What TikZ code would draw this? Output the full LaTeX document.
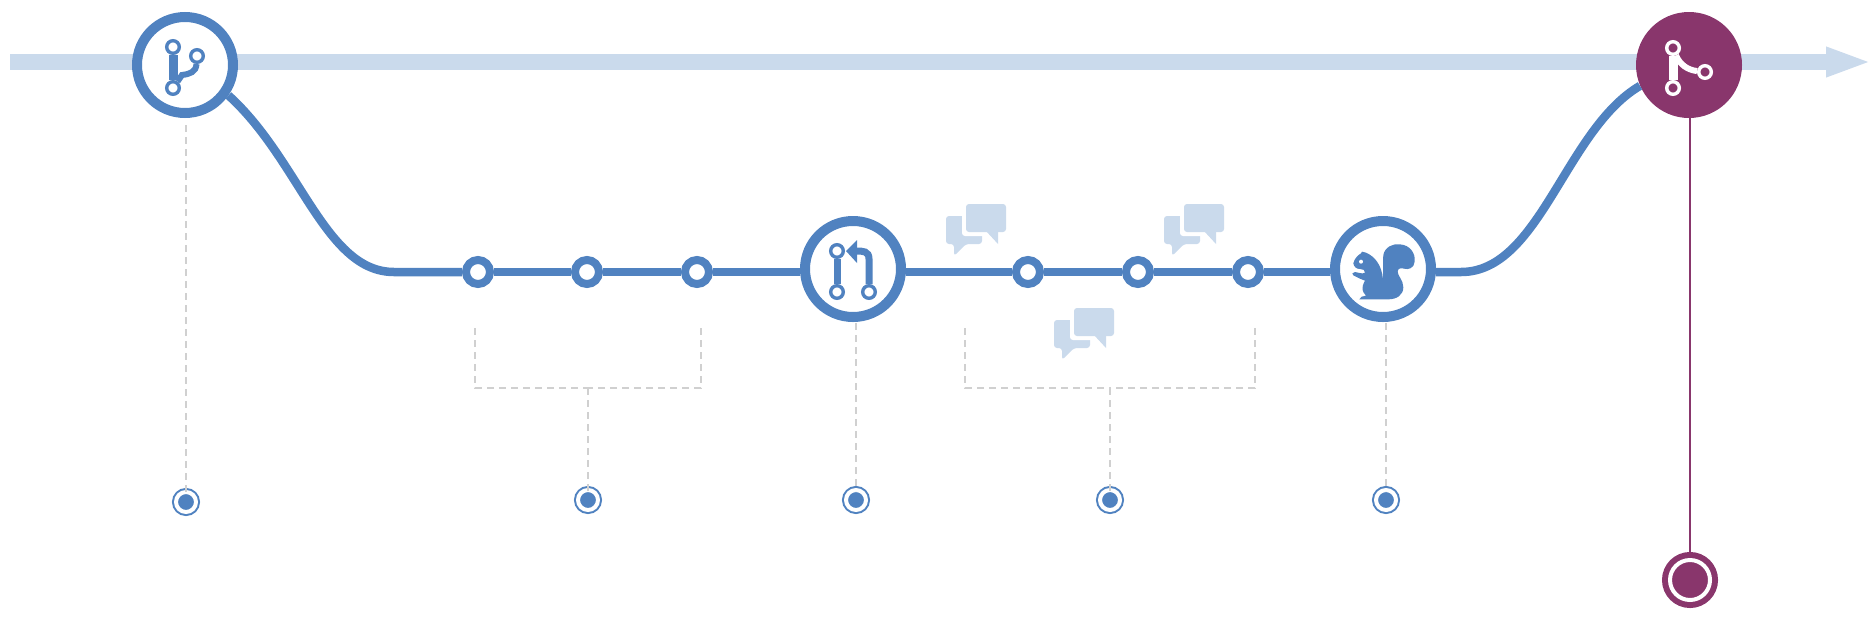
\documentclass[tikz,border=0pt]{standalone}
\usetikzlibrary{arrows.meta}
\definecolor{myblue}{RGB}{80,130,192}
\definecolor{mypale}{RGB}{202,218,236}
\definecolor{mypurple}{RGB}{137,54,108}
\definecolor{mygrey}{RGB}{208,208,208}

\begin{document}
\begin{tikzpicture}[x=1pt,y=-1pt,
  stage/.style={circle,draw=myblue,line width=10pt,fill=white,inner sep=0pt,minimum size=96pt},
  mergestage/.style={circle,fill=mypurple,inner sep=0pt,minimum size=106pt},
  commit/.style={circle,draw=myblue,line width=8pt,fill=white,inner sep=0pt,minimum size=24pt},
  goal/.style={circle,fill=myblue,draw=myblue,double=white,double distance=4pt,line width=2pt,inner sep=0pt,minimum size=20pt},
  endgoal/.style={circle,fill=mypurple,draw=mypurple,double=white,double distance=4pt,line width=6pt,inner sep=0pt,minimum size=40pt},
  knob/.style={circle,draw=myblue,line width=3.4pt,fill=white,inner sep=0pt,minimum size=12.6pt},
  whiteknob/.style={knob,draw=white,fill=mypurple},
  flow/.style={draw=myblue,line width=8.5pt},
  iconline/.style={draw=myblue,line width=9pt},
  guide/.style={draw=mygrey,line width=2pt,dash pattern=on 7pt off 5pt},
  chat/.pic={
    \fill[mypale,rounded corners=3pt] (0,0) -- (36,0) -- (36,28) -- (20,28) -- (8,40) -- (8,28) -- (0,28) -- cycle;
    \fill[white,rounded corners=3pt] (16,-16) rectangle (64,20);
    \fill[mypale,rounded corners=3pt] (20,-12) rectangle (60,16);
    \fill[mypale] (40,15) -- (52,28) -- (52,15) -- cycle;
  }]

  \useasboundingbox (0,0) rectangle (1874,622);

  % the long bar at the top
  \coordinate (barstart) at (10,62);
  \coordinate (barend) at (1872,62);
  \draw[mypale,line width=16pt,-{Triangle[length=46pt,width=27pt]}] (barstart) -- (barend);

  % stages on the way
  \node[stage] (branch) at (185,65) {};
  \node[stage] (pull) at (853,269) {};
  \node[stage] (squirrel) at (1383,269) {};
  \node[mergestage] (merge) at (1689,65) {};

  \node[commit] (c1) at (478,272) {};
  \node[commit] (c2) at (587,272) {};
  \node[commit] (c3) at (697,272) {};
  \node[commit] (c4) at (1028,272) {};
  \node[commit] (c5) at (1138,272) {};
  \node[commit] (c6) at (1248,272) {};

  \node[goal] (g1) at (186,502) {};
  \node[goal] (g2) at (588,500) {};
  \node[goal] (g3) at (856,500) {};
  \node[goal] (g4) at (1110,500) {};
  \node[goal] (g5) at (1386,500) {};
  \node[endgoal] (g6) at (1690,580) {};

  % blue line
  \coordinate (leftfoot) at (394,272);
  \coordinate (rightfoot) at (1461,272);
  \draw[flow] (branch.-35) .. controls (300,160) and (325,272) .. (leftfoot) -- (c1);
  \draw[flow] (c1) -- (c2);
  \draw[flow] (c2) -- (c3);
  \draw[flow] (c3) -- (c3 -| pull.west);
  \draw[flow] (pull.east |- c4) -- (c4);
  \draw[flow] (c4) -- (c5);
  \draw[flow] (c5) -- (c6);
  \draw[flow] (c6) -- (c6 -| squirrel.west);
  \draw[flow] (squirrel.east |- rightfoot) -- (rightfoot) .. controls (1540,272) and (1565,130) .. (merge.203);

  \draw[mypurple,line width=2pt] (g6 |- merge.south) -- (g6);

  % dashed guides
  \draw[guide] (branch) ++(1,60) -- ([yshift=-2pt]g1.north);
  \draw[guide] (pull) ++(3,54) -- ([yshift=-2pt]g3.north);
  \draw[guide] (squirrel) ++(3,54) -- ([yshift=-2pt]g5.north);

  \coordinate (leftjoin) at (588,388);
  \coordinate (rightjoin) at (1110,388);
  \draw[guide] (475,328) |- (leftjoin);
  \draw[guide] (701,328) |- (leftjoin);
  \draw[guide] (leftjoin) -- ([yshift=-2pt]g2.north);
  \draw[guide] (965,328) |- (rightjoin);
  \draw[guide] (1255,328) |- (rightjoin);
  \draw[guide] (rightjoin) -- ([yshift=-2pt]g4.north);

  % speech bubbles
  \pic at (946,216) {chat};
  \pic at (1164,216) {chat};
  \pic at (1054,320) {chat};

  % branch icon
  \node[knob] (b1) at (173,47) {};
  \node[knob] (b2) at (173,88) {};
  \node[knob] (b3) at (197,56) {};
  \draw[iconline] (b1) -- (b2);
  \draw[iconline,line width=6pt] (b3) .. controls (196,72) and (190,74) .. (182,75) -- (b2);

  % pull request icon
  \node[knob] (p1) at (837,251) {};
  \node[knob] (p2) at (837,292) {};
  \node[knob] (p3) at (869,292) {};
  \draw[iconline,line width=7pt] (p1) -- (p2);
  \draw[iconline,line width=7pt] (p3) -- (869,259) .. controls (869,251) and (863,251) .. (856,251) -- (853,251);
  \fill[myblue] (846,251) -- (857,240) -- (857,263) -- cycle;

  % merge icon
  \node[whiteknob] (m1) at (1673,48) {};
  \node[whiteknob] (m2) at (1673,88) {};
  \node[whiteknob] (m3) at (1705,72) {};
  \draw[white,line width=9pt] (m1) -- (m2);
  \draw[white,line width=6pt] (m1) .. controls (1680,65) and (1688,70) .. (m3);

  % squirrel
  \begin{scope}[shift={(1300,200)},scale=1/3]
    \fill[myblue] (160,190) .. controls (163,175) and (175,165) .. (183,160) -- (186,155) -- (198,158)
      .. controls (225,170) and (245,195) .. (249,238)
      .. controls (250,215) and (248,190) .. (250,165)
      .. controls (255,140) and (280,130) .. (300,133)
      .. controls (330,135) and (347,160) .. (344,185)
      .. controls (342,205) and (325,210) .. (312,206)
      .. controls (303,203) and (293,205) .. (293,215)
      .. controls (293,228) and (310,240) .. (310,262)
      .. controls (310,285) and (290,298) .. (265,298)
      -- (178,298) -- (185,290) -- (198,287)
      .. controls (187,275) and (182,265) .. (195,242)
      -- (180,236) -- (160,226) -- (157,220) -- (165,216)
      .. controls (175,216) and (185,224) .. (195,218)
      .. controls (197,210) and (188,207) .. (180,207)
      .. controls (168,207) and (162,200) .. (160,190) -- cycle;
    \fill[white] (183,185) circle (6);
  \end{scope}
\end{tikzpicture}
\end{document}
